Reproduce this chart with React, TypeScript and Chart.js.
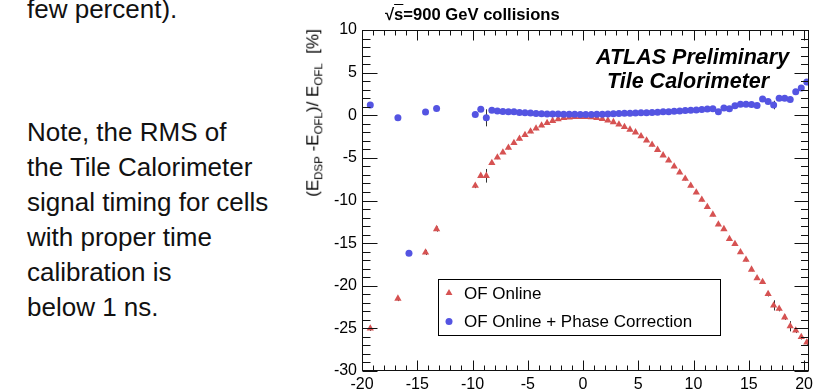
import React, { useEffect, useRef } from 'react';
import { Chart, registerables } from 'chart.js';

Chart.register(...registerables);

// ---------- data ----------
const xTickValues = [-20, -15, -10, -5, 0, 5, 10, 15, 20];
const yTickValues = [-30, -25, -20, -15, -10, -5, 0, 5, 10];
const xMin = -20;
const xMax = 20.45;
const yMin = -30;
const yMax = 10;

const seriesLabels = ['OF Online', 'OF Online + Phase Correction'];

const redX = [-19.25, -16.75, -14.25, -13.25,
  -9.75, -9.25, -8.75, -8.25, -7.75, -7.25, -6.75, -6.25, -5.75, -5.25, -4.75, -4.25, -3.75, -3.25, -2.75, -2.25, -1.75, -1.25, -0.75, -0.25,
  0.25, 0.75, 1.25, 1.75, 2.25, 2.75, 3.25, 3.75, 4.25, 4.75, 5.25, 5.75, 6.25, 6.75, 7.25, 7.75, 8.25, 8.75, 9.25, 9.75,
  10.25, 10.75, 11.25, 11.75, 12.25, 12.75, 13.25, 13.75, 14.25, 14.75, 15.25, 15.75, 16.25, 16.75, 17.25, 17.75, 18.25, 18.75, 19.25, 19.75, 20.25];
const redY = [-25.0, -21.5, -16.1, -13.35,
  -8.25, -7.1, -7.1, -5.6, -4.95, -4.35, -3.8, -3.25, -2.75, -2.3, -1.9, -1.55, -1.2, -0.9, -0.65, -0.45, -0.32, -0.24, -0.2, -0.18,
  -0.18, -0.22, -0.3, -0.42, -0.6, -0.8, -1.07, -1.38, -1.68, -2.0, -2.45, -2.95, -3.45, -4.05, -4.7, -5.3, -6.0, -6.7, -7.45, -8.25,
  -9.05, -9.9, -10.75, -11.65, -12.8, -13.35, -14.5, -15.1, -16.05, -16.95, -18.1, -19.1, -19.55, -20.95, -22.3, -22.7, -23.7, -24.75, -25.25, -26.0, -26.65];
const redErr = [0.3, 0.3, 0.3, 0.3,
  0.3, 0.2, 0.8, 0.2, 0.2, 0.2, 0.2, 0.2, 0.2, 0.2, 0.2, 0.2, 0.2, 0.2, 0.2, 0.2, 0.2, 0.2, 0.2, 0.2,
  0.2, 0.2, 0.2, 0.2, 0.2, 0.2, 0.2, 0.2, 0.2, 0.2, 0.2, 0.2, 0.2, 0.2, 0.2, 0.2, 0.2, 0.2, 0.2, 0.2,
  0.2, 0.2, 0.2, 0.2, 0.2, 0.2, 0.2, 0.2, 0.2, 0.2, 0.2, 0.2, 0.2, 0.3, 0.6, 0.3, 0.3, 0.6, 0.3, 0.3, 0.3];

const blueX = [-19.25, -16.75, -15.75, -14.25, -13.25,
  -9.75, -9.25, -8.75, -8.25, -7.75, -7.25, -6.75, -6.25, -5.75, -5.25, -4.75, -4.25, -3.75, -3.25, -2.75, -2.25, -1.75, -1.25, -0.75, -0.25,
  0.25, 0.75, 1.25, 1.75, 2.25, 2.75, 3.25, 3.75, 4.25, 4.75, 5.25, 5.75, 6.25, 6.75, 7.25, 7.75, 8.25, 8.75, 9.25, 9.75,
  10.25, 10.75, 11.25, 11.75, 12.25, 12.75, 13.25, 13.75, 14.25, 14.75, 15.25, 15.75, 16.25, 16.75, 17.25, 17.75, 18.25, 18.75, 19.25, 19.75, 20.25];
const blueY = [1.2, -0.3, -16.2, 0.37, 0.8,
  0.1, 0.7, -0.3, 0.6, 0.5, 0.45, 0.4, 0.4, 0.33, 0.28, 0.25, 0.2, 0.18, 0.16, 0.15, 0.14, 0.13, 0.12, 0.12, 0.1,
  0.1, 0.1, 0.12, 0.13, 0.15, 0.17, 0.2, 0.22, 0.24, 0.26, 0.28, 0.3, 0.33, 0.36, 0.4, 0.42, 0.48, 0.5, 0.55, 0.58,
  0.62, 0.68, 0.72, 0.75, 0.4, 0.85, 0.75, 1.1, 1.3, 1.3, 1.25, 1.15, 1.9, 1.6, 1.2, 2.0, 2.0, 1.85, 2.75, 3.2, 3.9];
const blueErr = [0.3, 0.3, 0.3, 0.3, 0.3,
  0.2, 0.2, 1.0, 0.15, 0.15, 0.15, 0.15, 0.15, 0.15, 0.15, 0.15, 0.15, 0.15, 0.15, 0.15, 0.15, 0.15, 0.15, 0.15, 0.15,
  0.15, 0.15, 0.15, 0.15, 0.15, 0.15, 0.15, 0.15, 0.15, 0.15, 0.15, 0.15, 0.15, 0.15, 0.15, 0.15, 0.15, 0.15, 0.15, 0.15,
  0.15, 0.15, 0.15, 0.15, 0.3, 0.2, 0.2, 0.2, 0.2, 0.2, 0.2, 0.2, 0.3, 0.3, 0.5, 0.3, 0.3, 0.3, 0.3, 0.3, 0.3];

const RED = '#d65252';
const BLUE = '#5454e2';
const FONT = '"Liberation Sans", Arial, Helvetica, sans-serif';

// ---------- plugin: ROOT style frame, inner ticks, error bars, legend ----------
const rootStylePlugin = {
  id: 'rootStyle',
  beforeDatasetsDraw(chart: any) {
    const { ctx } = chart;
    const xs = chart.scales.x;
    const ys = chart.scales.y;
    ctx.save();
    ctx.strokeStyle = '#333';
    ctx.lineWidth = 1;
    chart.data.datasets.forEach((ds: any) => {
      ds.data.forEach((p: any) => {
        if (!p.e) return;
        const px = Math.round(xs.getPixelForValue(p.x)) + 0.5;
        ctx.beginPath();
        ctx.moveTo(px, ys.getPixelForValue(p.y + p.e));
        ctx.lineTo(px, ys.getPixelForValue(p.y - p.e));
        ctx.stroke();
      });
    });
    ctx.restore();
  },
  afterDraw(chart: any) {
    const { ctx, chartArea } = chart;
    const { left, right, top, bottom } = chartArea;
    const xs = chart.scales.x;
    const ys = chart.scales.y;
    ctx.save();
    ctx.strokeStyle = '#111';
    ctx.lineWidth = 1;
    const L = Math.round(left) + 0.5;
    const R = Math.round(right) - 0.5;
    const T = Math.round(top) + 0.5;
    const B = Math.round(bottom) - 0.5;
    ctx.strokeRect(L, T, R - L, B - T);
    ctx.beginPath();
    for (let v = Math.ceil(xMin); v <= Math.floor(xMax); v++) {
      const major = v % 5 === 0;
      const px = Math.round(xs.getPixelForValue(v)) + 0.5;
      const len = major ? 10 : 5;
      ctx.moveTo(px, B);
      ctx.lineTo(px, B - len);
      ctx.moveTo(px, T);
      ctx.lineTo(px, T + len);
    }
    for (let v = yMin; v <= yMax; v++) {
      const major = v % 5 === 0;
      const py = Math.round(ys.getPixelForValue(v)) + 0.5;
      ctx.moveTo(L, py);
      ctx.lineTo(L + (major ? 15 : 8), py);
      ctx.moveTo(R, py);
      ctx.lineTo(R - (major ? 14 : 7.5), py);
    }
    ctx.stroke();

    // legend box
    const lx = 438.5, ly = 279.5, lw = 282, lh = 56;
    ctx.fillStyle = '#fff';
    ctx.fillRect(lx, ly, lw, lh);
    ctx.strokeStyle = '#000';
    ctx.strokeRect(lx, ly, lw, lh);
    const rows = [ly + 13.5, ly + 42];
    ctx.fillStyle = RED;
    const r = 4;
    const tx = 449, ty = rows[0];
    ctx.beginPath();
    ctx.moveTo(tx, ty - r);
    ctx.lineTo(tx + r * Math.sin((2 * Math.PI) / 3), ty - r * Math.cos((2 * Math.PI) / 3));
    ctx.lineTo(tx + r * Math.sin((4 * Math.PI) / 3), ty - r * Math.cos((4 * Math.PI) / 3));
    ctx.closePath();
    ctx.fill();
    ctx.fillStyle = BLUE;
    ctx.beginPath();
    ctx.arc(449, rows[1], 3.5, 0, Math.PI * 2);
    ctx.fill();
    ctx.fillStyle = '#000';
    ctx.font = '17px ' + FONT;
    ctx.textBaseline = 'middle';
    ctx.textAlign = 'left';
    ctx.fillText(chart.data.datasets[1].label, 464, rows[0] + 1);
    ctx.fillText(chart.data.datasets[0].label, 464, rows[1] + 1);
    ctx.restore();
  },
};

function ChartCanvas() {
  const ref = useRef<HTMLCanvasElement | null>(null);
  useEffect(() => {
    if (!ref.current) return;
    const chart = new Chart(ref.current, {
      type: 'scatter',
      data: {
        datasets: [
          {
            label: seriesLabels[1],
            data: blueX.map((x, i) => ({ x, y: blueY[i], e: blueErr[i] })),
            pointStyle: 'circle',
            pointRadius: 3.5,
            pointBorderWidth: 0,
            backgroundColor: BLUE,
            borderColor: BLUE,
            showLine: false,
            order: 1,
          },
          {
            label: seriesLabels[0],
            data: redX.map((x, i) => ({ x, y: redY[i], e: redErr[i] })),
            pointStyle: 'triangle',
            pointRadius: 4.2,
            pointBorderWidth: 0,
            backgroundColor: RED,
            borderColor: RED,
            showLine: false,
            order: 2,
          },
        ] as any,
      },
      options: {
        responsive: false,
        animation: false,
        layout: { padding: { left: 312, top: 30, right: 13, bottom: 0 } },
        plugins: {
          legend: { display: false },
          tooltip: { enabled: false },
          title: { display: false },
        },
        scales: {
          x: {
            type: 'linear',
            min: xMin,
            max: xMax,
            grid: { display: false, drawTicks: false },
            border: { display: false },
            ticks: {
              font: { family: FONT, size: 16 },
              color: '#000',
              padding: 4,
              maxRotation: 0,
              autoSkip: false,
              callback: (v: any) => String(v),
            },
            afterBuildTicks: (s: any) => {
              s.ticks = xTickValues.map((v) => ({ value: v }));
            },
            afterFit: (s: any) => {
              s.height = 21;
            },
          },
          y: {
            type: 'linear',
            min: yMin,
            max: yMax,
            grid: { display: false, drawTicks: false },
            border: { display: false },
            ticks: {
              font: { family: FONT, size: 16 },
              color: '#000',
              padding: 5,
              autoSkip: false,
              callback: (v: any) => String(v),
            },
            afterBuildTicks: (s: any) => {
              s.ticks = yTickValues.map((v) => ({ value: v }));
            },
            afterFit: (s: any) => {
              s.width = 50;
            },
          },
        },
      } as any,
      plugins: [rootStylePlugin],
    });
    return () => chart.destroy();
  }, []);
  return (
    <canvas
      ref={ref}
      width={822}
      height={392}
      style={{ position: 'absolute', left: 0, top: 0, width: 822, height: 392 }}
    />
  );
}

const slideLines = [
  'Note, the RMS of',
  'the Tile Calorimeter',
  'signal timing for cells',
  'with proper time',
  'calibration is',
  'below 1 ns.',
];

export default function App() {
  return (
    <div
      style={{
        position: 'fixed',
        left: 0,
        top: 0,
        width: 822,
        height: 392,
        background: '#fff',
        overflow: 'hidden',
        fontFamily: FONT,
        color: '#111',
      }}
    >
      <div style={{ position: 'absolute', left: 27, top: -8.2, fontSize: 26, lineHeight: '35px', whiteSpace: 'nowrap' }}>
        few percent).
      </div>
      <div style={{ position: 'absolute', left: 27, top: 115.2, fontSize: 26, lineHeight: '35px', whiteSpace: 'nowrap' }}>
        {slideLines.map((l, i) => (
          <div key={i}>{l}</div>
        ))}
      </div>
      <ChartCanvas />
      <div
        style={{
          position: 'absolute',
          left: 385,
          top: 5,
          fontSize: 16.6,
          lineHeight: '20px',
          fontWeight: 'bold',
          whiteSpace: 'nowrap',
          color: '#000',
        }}
      >
        √<span style={{ textDecoration: 'overline' }}>s</span>=900 GeV collisions
      </div>
      <div
        style={{
          position: 'absolute',
          left: 596,
          top: 45.2,
          fontSize: 21.5,
          lineHeight: '24px',
          fontWeight: 'bold',
          fontStyle: 'italic',
          whiteSpace: 'nowrap',
          color: '#000',
        }}
      >
        ATLAS Preliminary
      </div>
      <div
        style={{
          position: 'absolute',
          left: 607,
          top: 68.5,
          fontSize: 21.5,
          lineHeight: '24px',
          fontWeight: 'bold',
          fontStyle: 'italic',
          whiteSpace: 'nowrap',
          color: '#000',
        }}
      >
        Tile Calorimeter
      </div>
      <div
        style={{
          position: 'absolute',
          left: 316,
          top: 112.5,
          transform: 'translate(-50%, -50%) rotate(-90deg)',
          fontSize: 17,
          lineHeight: '20px',
          whiteSpace: 'nowrap',
          color: '#000',
        }}
      >
        (E<sub style={{ fontSize: 11.5 }}>DSP</sub> -E<sub style={{ fontSize: 11.5 }}>OFL</sub>)/ E
        <sub style={{ fontSize: 11.5 }}>OFL</sub>&nbsp; [%]
      </div>
    </div>
  );
}
